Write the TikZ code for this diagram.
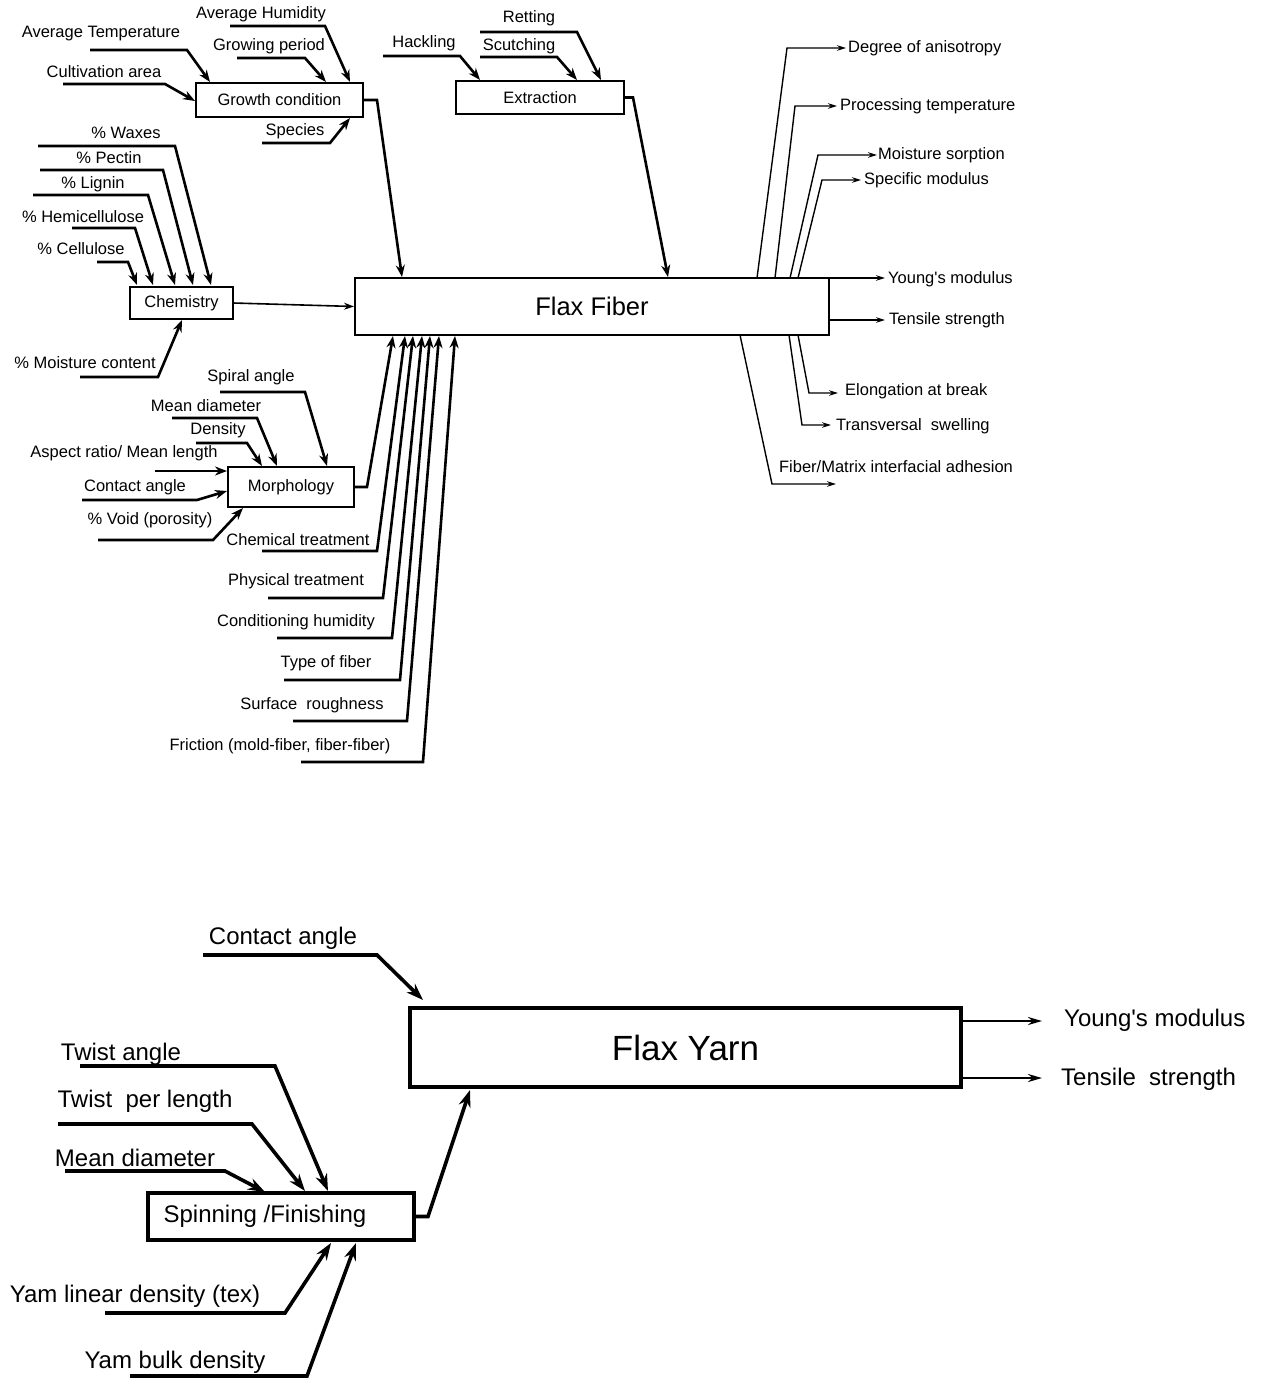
\documentclass[tikz,border=0pt]{standalone}
\usepackage{fontspec}
\setmainfont{Liberation Sans}
\usetikzlibrary{arrows.meta,calc}

\begin{document}
\begin{tikzpicture}[x=1pt,y=-1pt,
  lbl/.style={font=\fontsize{16.5}{19}\selectfont, inner sep=0pt},
  biglbl/.style={font=\fontsize{24}{27}\selectfont, inner sep=0pt},
  box/.style={draw, line width=1.8pt, inner sep=0pt, outer sep=0pt, anchor=north west,
              font=\fontsize{16.5}{19}\selectfont},
  bigbox/.style={draw, line width=3.2pt, inner sep=0pt, outer sep=0pt, anchor=north west,
              font=\fontsize{24}{27}\selectfont},
  feed/.style={line width=2.6pt, line join=miter, -{Stealth[length=12pt,width=9pt]}},
  outarr/.style={line width=1.4pt, -{Stealth[length=9pt,width=5.5pt]}},
  bigfeed/.style={line width=3.6pt, line join=miter, -{Stealth[length=17pt,width=12pt]}},
  bigout/.style={line width=2.6pt, -{Stealth[length=14pt,width=8pt]}},
]
\useasboundingbox (0,0) rectangle (1263,1378);

% ---------------- boxes ----------------
\node[box, minimum width=167pt, minimum height=34pt] (gc) at (196,83) {Growth condition};
\node[box, minimum width=168pt, minimum height=33pt] (ex) at (456,81) {Extraction};
\node[box, minimum width=103pt, minimum height=32pt] (chem) at (130,287) {Chemistry};
\node[box, minimum width=126pt, minimum height=40pt] (morph) at (228,467) {Morphology};
\node[box, line width=2.4pt, minimum width=474pt, minimum height=57pt,
      font=\fontsize{25.5}{28}\selectfont] (fiber) at (355,278) {Flax Fiber};

% ---------------- growth condition inputs ----------------
\node[lbl] (lavh) at (261,14) {Average Humidity};
\node[lbl] (lavt) at (101,34) {Average Temperature};
\node[lbl] (lgrp) at (269,46) {Growing period};
\node[lbl] (lcul) at (104,72) {Cultivation area};
\node[lbl] (lspe) at (295,131) {Species};
\draw[feed] (90,50) -- (187,50) -- (210,82);
\draw[feed] (63,84) -- (165,84) -- (195,101);
\draw[feed] (230,26) -- (325,26) -- (350,82);
\draw[feed] (237,58) -- (305,58) -- (326,82);
\draw[feed] (262,143) -- (330,143) -- (350,118);
\draw[feed] (gc.east) -- ++(14,0) -- ($(fiber.north west)+(47,-1)$);

% ---------------- extraction inputs ----------------
\node[lbl] (lret) at (529,18) {Retting};
\node[lbl] (lhac) at (424,43) {Hackling};
\node[lbl] (lscu) at (519,46) {Scutching};
\draw[feed] (383,56) -- (460,56) -- (480,80);
\draw[feed] (480,57) -- (557,57) -- (577,80);
\draw[feed] (480,32) -- (577,32) -- (601,80);
\draw[feed] (ex.east) -- ++(9,0) -- ($(fiber.north west)+(313,-1)$);

% ---------------- chemistry inputs ----------------
\node[lbl] (lwax) at (126,133) {\% Waxes};
\node[lbl] (lpec) at (109,158) {\% Pectin};
\node[lbl] (llig) at (93,184) {\% Lignin};
\node[lbl] (lhem) at (83,217) {\% Hemicellulose};
\node[lbl] (lcel) at (81,249) {\% Cellulose};
\node[lbl] (lmoi) at (85,363) {\% Moisture content};
\draw[feed] (97,262) -- (128,262) -- (137,285);
\draw[feed] (72,228) -- (135,228) -- (153,285);
\draw[feed] (33,195) -- (148,195) -- (175,285);
\draw[feed] (40,170) -- (163,170) -- (193,285);
\draw[feed] (38,146) -- (175,146) -- (211,285);
\draw[feed] (80,377) -- (158,377) -- (182,320);
\draw[line width=1.6pt, -{Stealth[length=10pt,width=7pt]}] (chem.east) -- ($(fiber.west)+(-1,0)$);

% ---------------- morphology inputs ----------------
\node[lbl] (lspi) at (251,377) {Spiral angle};
\node[lbl] (lmdi) at (206,406) {Mean diameter};
\node[lbl] (lden) at (218,430) {Density};
\node[lbl] (lasp) at (124,453) {Aspect ratio/ Mean length};
\node[lbl] (lcon) at (135,487) {Contact angle};
\node[lbl] (lvoi) at (150,520) {\% Void (porosity)};
\draw[feed] (220,392) -- (305,392) -- (327,466);
\draw[feed] (172,418) -- (257,418) -- (277,466);
\draw[feed] (196,443) -- (247,443) -- (262,466);
\draw[feed] (155,471) -- (227,471);
\draw[feed] (82,500) -- (197,500) -- (227,491);
\draw[feed] (98,540) -- (213,540) -- (243,508);
\draw[feed] (morph.east) -- ++(13,0) -- ($(fiber.south west)+(38,1)$);

% ---------------- treatments and other fibre inputs ----------------
\node[lbl] (lcht) at (298,540) {Chemical treatment};
\node[lbl] (lpht) at (296,581) {Physical treatment};
\node[lbl] (lchu) at (296,622) {Conditioning humidity};
\node[lbl] (ltyp) at (326,663) {Type of fiber};
\node[lbl] (lsur) at (312,705) {Surface\ \ roughness};
\node[lbl] (lfri) at (280,746) {Friction (mold-fiber, fiber-fiber)};
\draw[feed] (262,551) -- (377,551) -- ($(fiber.south west)+(50,1)$);
\draw[feed] (268,598) -- (383,598) -- ($(fiber.south west)+(58,1)$);
\draw[feed] (277,638) -- (392,638) -- ($(fiber.south west)+(67,1)$);
\draw[feed] (284,680) -- (400,680) -- ($(fiber.south west)+(75,1)$);
\draw[feed] (293,721) -- (407,721) -- ($(fiber.south west)+(84,1)$);
\draw[feed] (301,762) -- (423,762) -- ($(fiber.south west)+(100,1)$);

% ---------------- fibre properties ----------------
\node[lbl, anchor=west] (odeg) at (848,48) {Degree of anisotropy};
\node[lbl, anchor=west] (opro) at (840,106) {Processing temperature};
\node[lbl, anchor=west] (omoi) at (878,155) {Moisture sorption};
\node[lbl, anchor=west] (ospe) at (864,180) {Specific modulus};
\node[lbl, anchor=west] (oyou) at (888,279) {Young\textquotesingle s modulus};
\node[lbl, anchor=west] (oten) at (889,320) {Tensile strength};
\node[lbl, anchor=west] (oelo) at (845,391) {Elongation at break};
\node[lbl, anchor=west] (otra) at (836,426) {Transversal\ \ swelling};
\node[lbl] (oadh) at (896,467) {Fiber/Matrix interfacial adhesion};
\draw[outarr] ($(fiber.north west)+(402,0)$) -- (787,48) -- ($(odeg.west)+(-2,0)$);
\draw[outarr] ($(fiber.north west)+(420,0)$) -- (795,106) -- ($(opro.west)+(-3,0)$);
\draw[outarr] ($(fiber.north west)+(435,0)$) -- (818,155) -- ($(omoi.west)+(-1,0)$);
\draw[outarr] ($(fiber.north west)+(443,0)$) -- (822,180) -- ($(ospe.west)+(-3,0)$);
\draw[outarr] (fiber.north east) -- ($(oyou.west)+(-3,-1)$);
\draw[outarr] ($(fiber.south east)+(0,-15)$) -- ($(oten.west)+(-4,0)$);
\draw[outarr] ($(fiber.south west)+(443,0)$) -- (809,393) -- ($(oelo.west)+(-7,2)$);
\draw[outarr] ($(fiber.south west)+(434,0)$) -- (802,425) -- ($(otra.west)+(-5,-1)$);
\draw[outarr] ($(fiber.south west)+(385,0)$) -- (772,484) -- (836,484);

% ---------------- yarn level ----------------
\node[bigbox, minimum width=551pt, minimum height=79pt,
      font=\fontsize{35}{38}\selectfont] (yarn) at (410,1008) {Flax Yarn};
\node[bigbox, minimum width=266pt, minimum height=47pt] (spin) at (148,1193)
      {Spinning /Finishing\hspace*{32pt}};

\node[biglbl, anchor=west] (yyou) at (1064,1020) {Young\textquotesingle s modulus};
\node[biglbl, anchor=west] (yten) at (1061,1079) {Tensile\ \ strength};
\draw[bigout] ($(yarn.north east)+(0,13)$) -- ($(yyou.west)+(-22,1)$);
\draw[bigout] ($(yarn.south east)+(0,-9)$) -- ($(yten.west)+(-19,-1)$);

\node[biglbl] (ycon) at (283,938) {Contact angle};
\draw[bigfeed] (203,955) -- (377,955) -- ($(yarn.north west)+(13,-8)$);

\node[biglbl] (ytwa) at (121,1054) {Twist angle};
\node[biglbl] (ytwl) at (145,1101) {Twist\ \ per length};
\node[biglbl] (ymdi) at (135,1158) {Mean diameter};
\node[biglbl] (ylin) at (135,1296) {Yam linear density (tex)};
\node[biglbl] (ybul) at (175,1362) {Yam bulk density};
\draw[bigfeed] (80,1066) -- (275,1066) -- (328,1191);
\draw[bigfeed] (58,1124) -- (252,1124) -- (305,1191);
\draw[bigfeed] (65,1171) -- (225,1171) -- (265,1192);
\draw[bigfeed] (105,1313) -- (285,1313) -- (331,1243);
\draw[bigfeed] (130,1376) -- (307,1376) -- (356,1243);
\draw[bigfeed] (spin.east) -- ++(14,0) -- ($(yarn.south west)+(60,3)$);

\end{tikzpicture}
\end{document}
